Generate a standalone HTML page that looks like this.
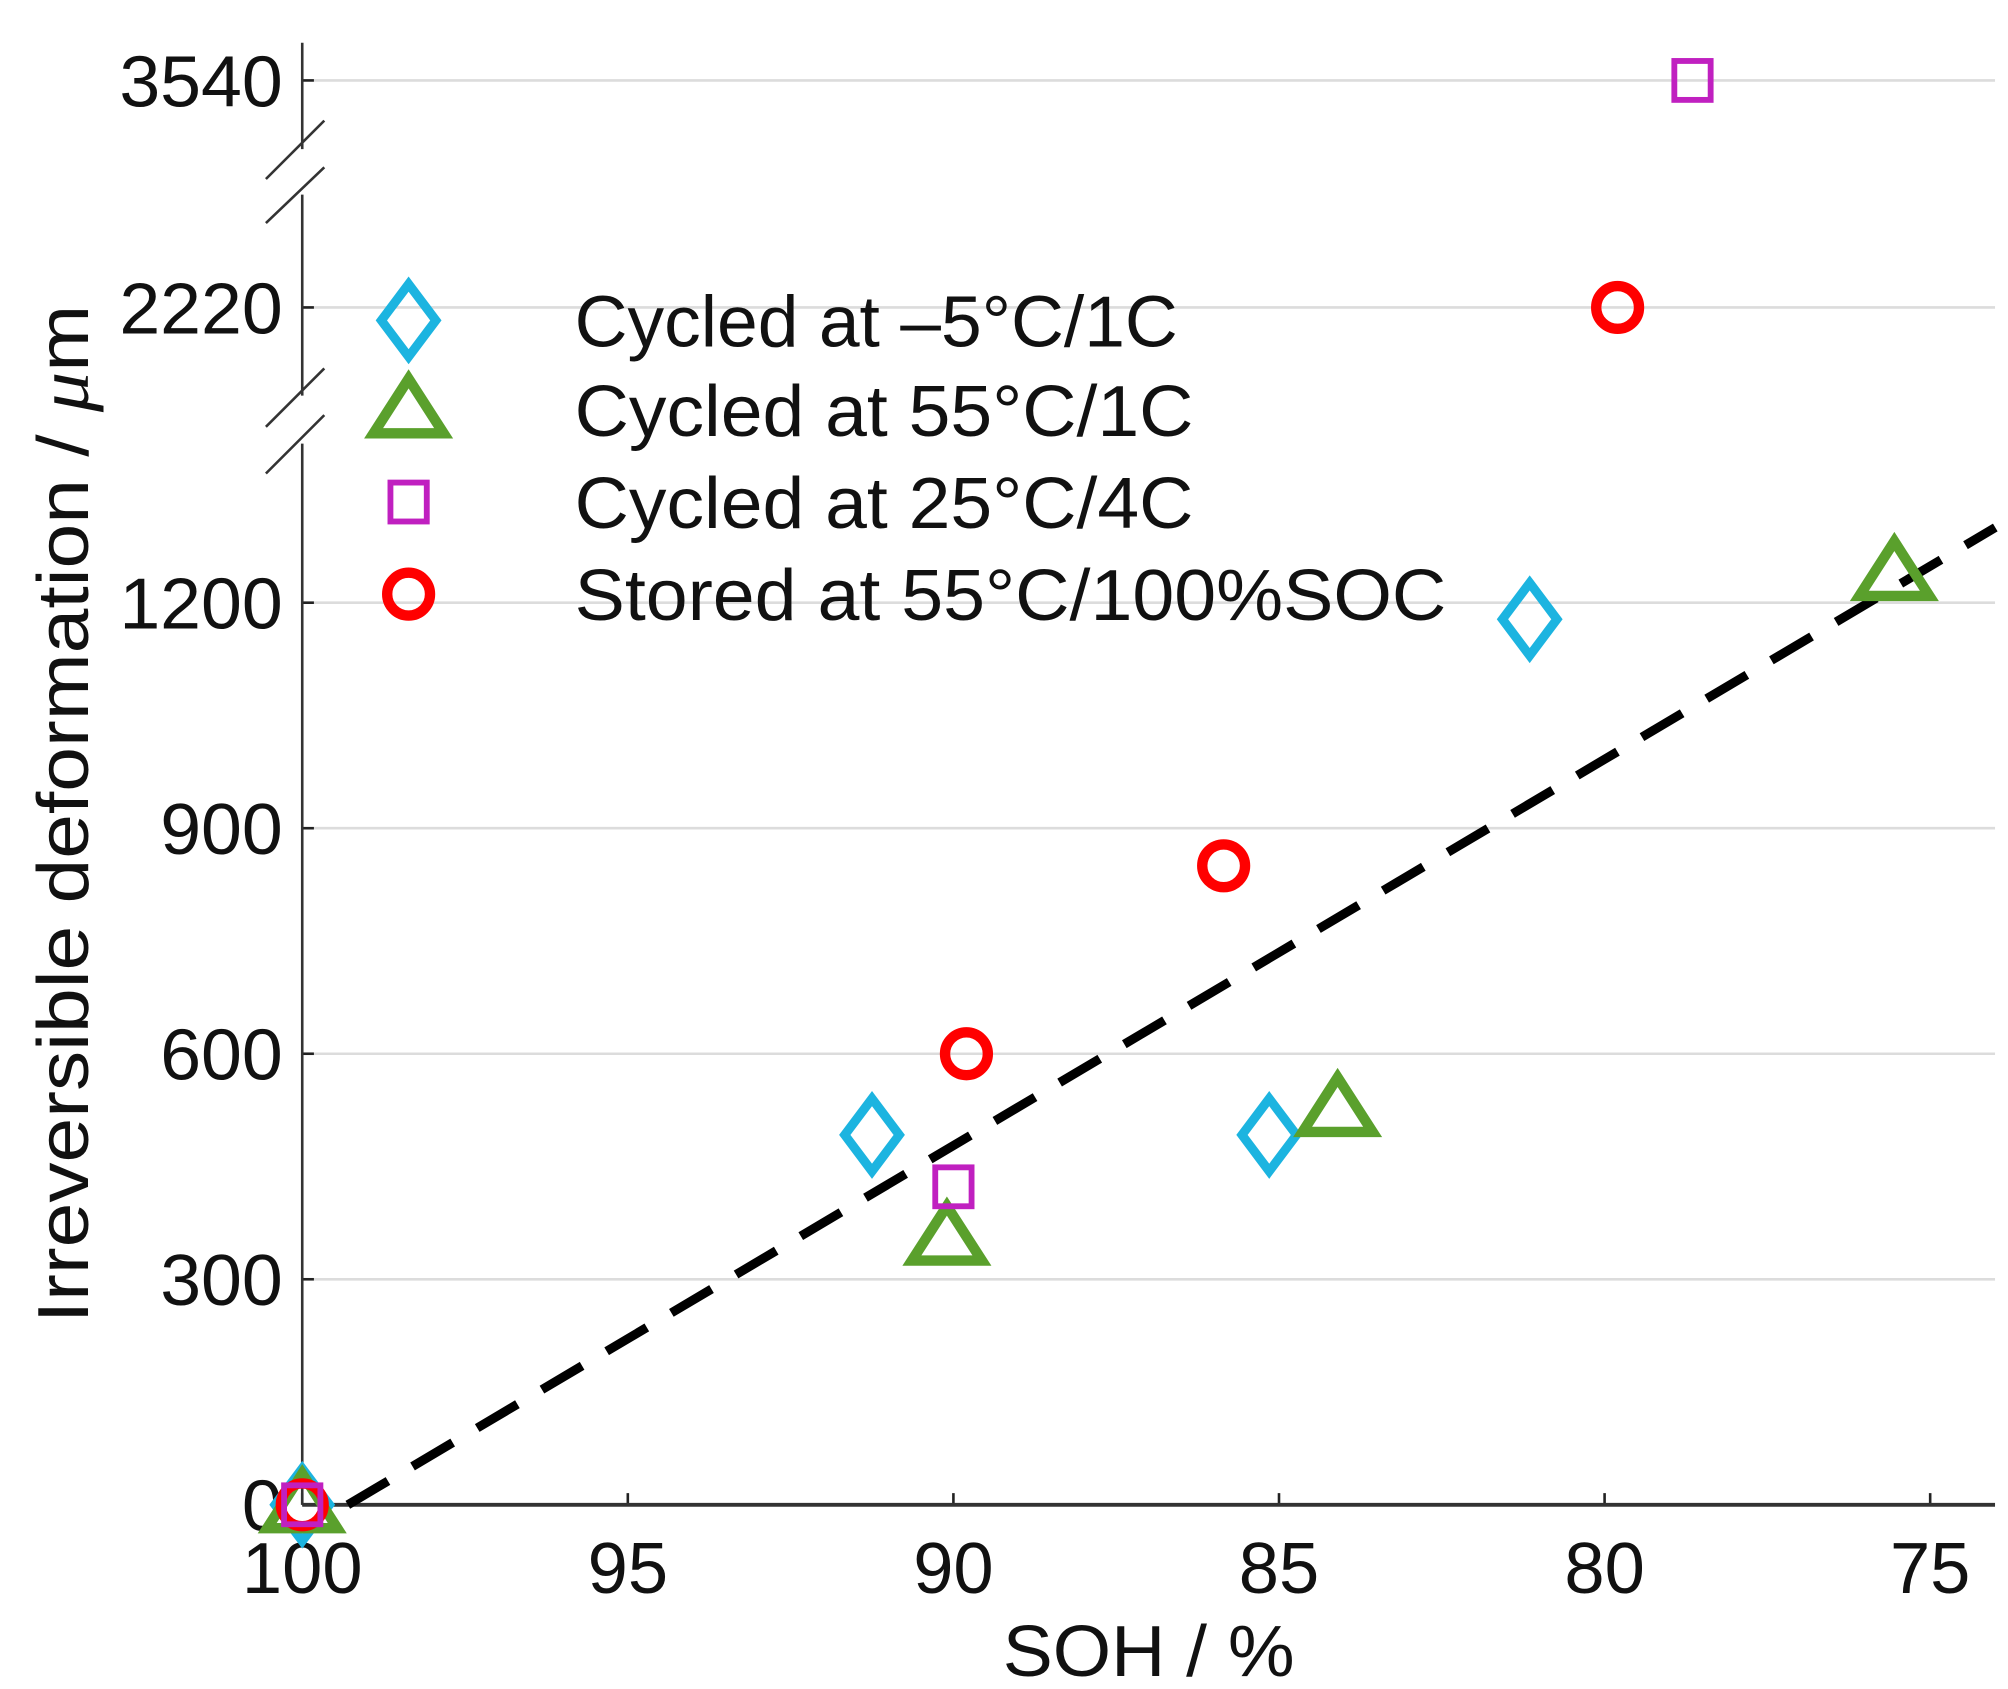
<!DOCTYPE html>
<html><head><meta charset="utf-8"><style>
html,body{margin:0;padding:0;background:#fff;}
svg{display:block;font-family:"Liberation Sans",Arial,sans-serif;}
</style></head><body>
<svg id="chart" width="2008" height="1689" viewBox="0 0 1548 1302" preserveAspectRatio="none" xmlns="http://www.w3.org/2000/svg">
<g id="grid"></g>
<g id="axes"></g>
<g id="fit"></g>
<g id="marks"></g>
<g id="legend"></g>
</svg>
<script>
const xTicks = [100, 95, 90, 85, 80, 75];
const yTicks = [0, 300, 600, 900, 1200, 2220, 3540];
const diamondX = [100, 91.25, 85.15, 81.15];
const diamondY = [0, 492, 492, 1178];
const triangleX = [100, 90.1, 84.1, 75.55];
const triangleY = [0, 356, 527, 1240];
const squareX = [100, 90, 78.65];
const squareY = [0, 423, 3540];
const circleX = [100, 89.8, 85.85, 79.8];
const circleY = [0, 600, 850, 2220];
const fitX = [99.3, 74];
const fitY = [0, 1300];
const legendLabels = ["Cycled at \u20135\u00b0C/1C", "Cycled at 55\u00b0C/1C", "Cycled at 25\u00b0C/4C", "Stored at 55\u00b0C/100%SOC"];

const NS = "http://www.w3.org/2000/svg";
const X0 = 233, X1 = 1538, Y0 = 1160;
function sx(v){ return X0 + (100 - v) * 50.2; }
function sy(v){
  if (v < 1700) return Y0 - v * 0.5795;
  if (v < 3000) return 237 + (2220 - v) * 0.5795;
  return 62 + (3540 - v) * 0.5795;
}
function mk(tag, attrs, parent){
  const e = document.createElementNS(NS, tag);
  for (const k in attrs) e.setAttribute(k, attrs[k]);
  parent.appendChild(e);
  return e;
}
const grid = document.getElementById('grid');
const axes = document.getElementById('axes');
const marks = document.getElementById('marks');
const legend = document.getElementById('legend');
const fit = document.getElementById('fit');

yTicks.forEach(t => {
  const y = sy(t);
  if (t > 0) {
    const g = mk('line', {x1: X0, x2: X1, y1: y, y2: y, stroke: '#dcdcdc', 'stroke-width': 2}, grid);
    
    
  }
  const tk = mk('line', {x1: X0, x2: X0 + 9, y1: y, y2: y, stroke: '#222', 'stroke-width': 2}, axes);
  
  
  const s = String(t);
  const tx = mk('text', {x: 218, y: y + 20, 'text-anchor': 'end', 'font-size': 56, fill: '#111', textLength: s.length * 31.5, lengthAdjust: 'spacingAndGlyphs'}, axes);
  tx.textContent = s;
  
  
});
xTicks.forEach(t => {
  const x = sx(t);
  const tk = mk('line', {x1: x, x2: x, y1: Y0, y2: Y0 - 9, stroke: '#222', 'stroke-width': 2}, axes);
  
  
  const s = String(t);
  const tx = mk('text', {x: x - s.length * 15.5, y: 1228, 'font-size': 56, fill: '#111', textLength: s.length * 31, lengthAdjust: 'spacingAndGlyphs'}, axes);
  tx.textContent = s;
  
  
});
[[33,115],[150,305],[342,Y0]].forEach(s => {
  const l = mk('line', {x1: X0, x2: X0, y1: s[0], y2: s[1], stroke: '#333', 'stroke-width': 2}, axes);
  
  
});
[[138,93],[172,129],[329,284],[365,320]].forEach(s => {
  const l = mk('line', {x1: 205, y1: s[0], x2: 250, y2: s[1], stroke: '#333', 'stroke-width': 2}, axes);
  
  
});
const xa = mk('line', {x1: X0, x2: X1, y1: Y0, y2: Y0, stroke: '#333', 'stroke-width': 3}, axes);


const xt = mk('text', {x: 773, y: 1292, 'font-size': 56, fill: '#111', textLength: 225, lengthAdjust: 'spacingAndGlyphs'}, axes);
xt.textContent = 'SOH / %';


const yt = mk('text', {x: -392, y: 0, 'font-size': 56, fill: '#111', transform: 'translate(68,628) rotate(-90)', textLength: 785, lengthAdjust: 'spacingAndGlyphs'}, axes);
yt.innerHTML = 'Irreversible deformation / <tspan font-style="italic" font-family="Liberation Serif, serif">\u03bc</tspan>m';



const fl = mk('line', {x1: sx(fitX[0]), y1: sy(fitY[0]), x2: sx(fitX[1]), y2: sy(fitY[1]), stroke: '#000', 'stroke-width': 7, 'stroke-dasharray': '36 22'}, fit);



function diamond(x, y, p){ return mk('path', {d: `M${x},${y-28}L${x+21},${y}L${x},${y+28}L${x-21},${y}Z`, fill: 'none', stroke: '#1cb4e0', 'stroke-width': 7}, p); }
function triangle(x, y, p){ return mk('path', {d: `M${x},${y-24}L${x+27},${y+18}L${x-27},${y+18}Z`, fill: 'none', stroke: '#5aa02c', 'stroke-width': 8}, p); }
function square(x, y, p){ return mk('rect', {x: x-14, y: y-15, width: 28, height: 30, fill: 'none', stroke: '#c020c0', 'stroke-width': 4.5}, p); }
function circle(x, y, p){ return mk('circle', {cx: x, cy: y, r: 16.5, fill: 'none', stroke: '#ff0000', 'stroke-width': 8}, p); }

diamondX.forEach((v,i) => { const e = diamond(sx(v), sy(diamondY[i]), marks);   });
triangleX.forEach((v,i) => { const e = triangle(sx(v), sy(triangleY[i]), marks);   });
circleX.forEach((v,i) => { const e = circle(sx(v), sy(circleY[i]), marks);   });
squareX.forEach((v,i) => { const e = square(sx(v), sy(squareY[i]), marks);   });

const ly = [247, 316, 387, 458];
const lw = [465, 477, 477, 672];
const fns = [diamond, triangle, square, circle];
legendLabels.forEach((lab, i) => {
  const m = fns[i](315, ly[i], legend);
  
  
  const t = mk('text', {x: 443, y: ly[i] + 20, 'font-size': 56, fill: '#111', textLength: lw[i], lengthAdjust: 'spacingAndGlyphs'}, legend);
  t.textContent = lab;
  
  
});
</script>
</body></html>
